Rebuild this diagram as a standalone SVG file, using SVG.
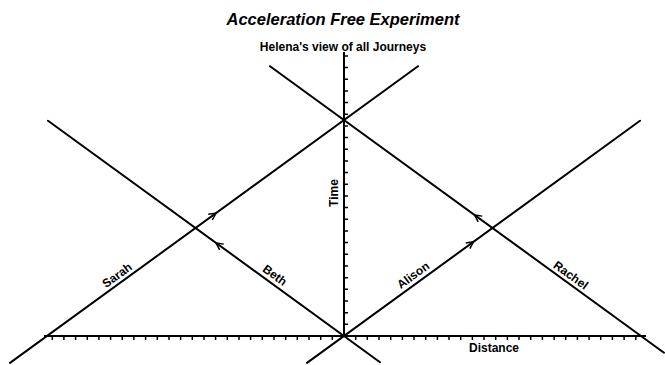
<svg xmlns="http://www.w3.org/2000/svg" width="665" height="365" viewBox="0 0 665 365">
  <style>
    .bg { fill: #ffffff; }
    .axis { stroke: #000; stroke-width: 2; fill: none; }
    .tick { stroke: #000; stroke-width: 1.5; fill: none; }
    .world { stroke: #000; stroke-width: 2; fill: none; stroke-linecap: round; }
    .dir { stroke: none; fill: none; }
    .title { font-family: "Liberation Sans", Arial, sans-serif; font-size: 16.5px; font-weight: bold; font-style: italic; fill: #000; }
    .lbl { font-family: "Liberation Sans", Arial, sans-serif; font-size: 12px; font-weight: bold; fill: #000; }
  </style>
  <defs>
    <marker id="open-arrow" viewBox="-9 -5 10 10" refX="0" refY="0" markerWidth="10" markerHeight="10" markerUnits="userSpaceOnUse" orient="auto" overflow="visible">
      <path d="M-7,-3.5 L0,0 L-7,3.5" fill="none" stroke="#000" stroke-width="1.5"/>
    </marker>
  </defs>
  <rect class="bg" x="0" y="0" width="665" height="365"/>

  <text class="title" x="343" y="25" text-anchor="middle">Acceleration Free Experiment</text>
  <text class="lbl" x="343" y="51" text-anchor="middle">Helena's view of all Journeys</text>

  <g id="axes">
    <line class="axis" x1="44" y1="336" x2="646" y2="336"/>
    <line class="axis" x1="344" y1="52" x2="344" y2="337"/>
    <path class="tick" d="M332.3,336v4 M320.7,336v4 M309,336v4 M297.3,336v4 M285.7,336v4 M274,336v4 M262.3,336v4 M250.6,336v4 M239,336v4 M227.3,336v4 M215.6,336v4 M204,336v4 M192.3,336v4 M180.6,336v4 M169,336v4 M157.3,336v4 M145.6,336v4 M133.9,336v4 M122.3,336v4 M110.6,336v4 M98.9,336v4 M87.3,336v4 M75.6,336v4 M63.9,336v4 M52.3,336v4 M355.7,336v4 M367.3,336v4 M379,336v4 M390.7,336v4 M402.4,336v4 M414,336v4 M425.7,336v4 M437.4,336v4 M449,336v4 M460.7,336v4 M472.4,336v4 M484,336v4 M495.7,336v4 M507.4,336v4 M519,336v4 M530.7,336v4 M542.4,336v4 M554.1,336v4 M565.7,336v4 M577.4,336v4 M589.1,336v4 M600.7,336v4 M612.4,336v4 M624.1,336v4 M635.8,336v4"/>
    <path class="tick" d="M344,324.3h4 M344,312.7h4 M344,301h4 M344,289.3h4 M344,277.7h4 M344,266h4 M344,254.3h4 M344,242.6h4 M344,231h4 M344,219.3h4 M344,207.6h4 M344,196h4 M344,184.3h4 M344,172.6h4 M344,161h4 M344,149.3h4 M344,137.6h4 M344,125.9h4 M344,114.3h4 M344,102.6h4 M344,90.9h4 M344,79.3h4 M344,67.6h4 M344,55.9h4"/>
    <text class="lbl" transform="translate(337.5,193) rotate(-90)" text-anchor="middle">Time</text>
    <text class="lbl" x="494" y="352" text-anchor="middle">Distance</text>
  </g>

  <g id="connectors">
    <line id="sarah-line" class="world" x1="10" y1="362.9" x2="418" y2="66.2"/>
    <line id="beth-line" class="world" x1="48" y1="120.7" x2="380" y2="362.2"/>
    <line id="alison-line" class="world" x1="307" y1="362.9" x2="640" y2="120.7"/>
    <line id="rachel-line" class="world" x1="270" y1="66.2" x2="664" y2="352.7"/>
    <path class="dir" d="M211.1,216.6 L216,213.1" marker-end="url(#open-arrow)"/>
    <path class="dir" d="M220.9,246.4 L216,242.9" marker-end="url(#open-arrow)"/>
    <path class="dir" d="M468.6,245.3 L473.5,241.8" marker-end="url(#open-arrow)"/>
    <path class="dir" d="M479.4,218.4 L474.5,214.9" marker-end="url(#open-arrow)"/>
  </g>

  <g id="sarah"><text class="lbl" transform="translate(117,275) rotate(-36)" y="4.3" text-anchor="middle">Sarah</text></g>
  <g id="beth"><text class="lbl" transform="translate(275,275) rotate(36)" y="4.3" text-anchor="middle">Beth</text></g>
  <g id="alison"><text class="lbl" transform="translate(413,275) rotate(-36)" y="4.3" text-anchor="middle">Alison</text></g>
  <g id="rachel"><text class="lbl" transform="translate(571,275) rotate(36)" y="4.3" text-anchor="middle">Rachel</text></g>
</svg>
